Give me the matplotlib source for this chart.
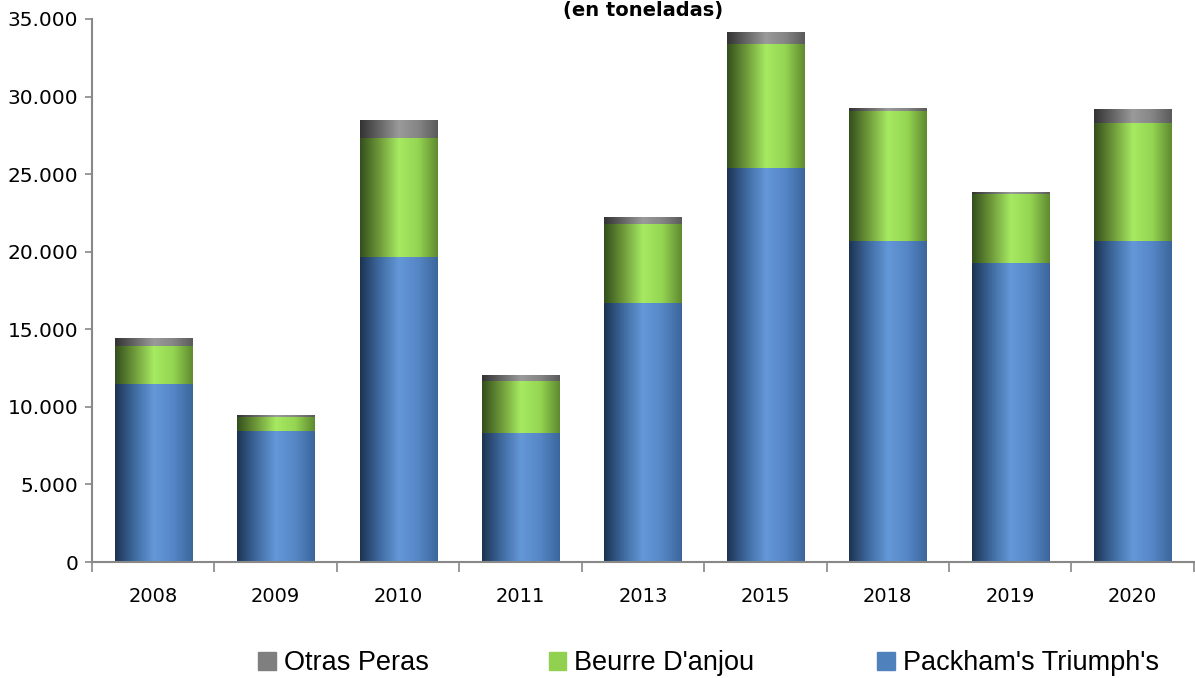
import numpy as np
import matplotlib.pyplot as plt
from matplotlib.colors import LinearSegmentedColormap
from matplotlib.ticker import FuncFormatter, FixedLocator
from matplotlib.patches import Patch


# ============================================================
# Data (toneladas)
# ============================================================

YEARS = ["2008", "2009", "2010", "2011", "2013", "2015", "2018", "2019", "2020"]
PACKHAM = [11500, 8450, 19680, 8320, 16710, 25420, 20710, 19290, 20710]
BEURRE = [2400, 900, 7670, 3360, 5100, 8000, 8390, 4450, 7610]
OTRAS = [550, 130, 1150, 380, 450, 770, 190, 130, 910]

SERIES_NAMES = ["Packham's Triumph's", "Beurre D'anjou", "Otras Peras"]
SERIES_FLAT = ["#4f81bd", "#92d050", "#7f7f7f"]
SERIES_GRAD = [
    ["#1c3352", "#3f6aa0", "#6498d8", "#5686c6", "#3b669c"],
    ["#334f1c", "#6f9a3a", "#a6ea62", "#94d451", "#5f8a30"],
    ["#333333", "#666666", "#9a9a9a", "#858585", "#5a5a5a"],
]

plt.rcParams["font.family"] = ["DejaVu Sans"]


def shade_bars(ax, bars, colors):
    """Fill each bar with a horizontal cylinder-like gradient."""
    cmap = LinearSegmentedColormap.from_list("g", colors)
    grad = np.linspace(0, 1, 256).reshape(1, -1)
    for b in bars:
        x0, y0 = b.get_x(), b.get_y()
        w, h = b.get_width(), b.get_height()
        if h <= 0:
            continue
        im = ax.imshow(grad, extent=[x0, x0 + w, y0, y0 + h], aspect="auto",
                       cmap=cmap, interpolation="bicubic", zorder=2)
        im.set_clip_path(b)
        b.set_facecolor("none")


fig = plt.figure(figsize=(11.95, 6.78), dpi=100)
ax = fig.add_axes([0.077, 0.171, 0.922, 0.801])

x = np.arange(len(YEARS))
width = 0.63
bottom = np.zeros(len(YEARS))
for vals, grad in zip([PACKHAM, BEURRE, OTRAS], SERIES_GRAD):
    bars = ax.bar(x, vals, width, bottom=bottom, linewidth=0, zorder=2)
    shade_bars(ax, bars, grad)
    bottom += np.array(vals)

ax.set_xlim(-0.5, len(YEARS) - 0.5)
ax.set_ylim(0, 35000)
ax.yaxis.set_major_locator(FixedLocator(np.arange(0, 35001, 5000)))
ax.yaxis.set_major_formatter(FuncFormatter(lambda v, p: f"{int(v):,}".replace(",", ".")))

ax.set_xticks(x)
ax.set_xticklabels(YEARS)
ax.set_xticks(np.arange(-0.5, len(YEARS)), minor=True)
ax.tick_params(axis="x", which="major", length=0, pad=18, labelsize=14)
ax.tick_params(axis="x", which="minor", length=7, color="#888888", width=1.2)
ax.tick_params(axis="y", length=5, color="#888888", width=1.2, labelsize=14.5, pad=5)

for s in ["top", "right"]:
    ax.spines[s].set_visible(False)
for s in ["left", "bottom"]:
    ax.spines[s].set_color("#888888")
    ax.spines[s].set_linewidth(1.5)

fig.text(0.538, 0.999, "(en toneladas)", ha="center", va="top",
         fontsize=14, fontweight="bold")

# legend: one entry per block, in the reference's order
for i, xpos in zip([2, 1, 0], [0.216, 0.459, 0.734]):
    fig.legend([Patch(color=SERIES_FLAT[i])], [SERIES_NAMES[i]],
               loc="center left", bbox_to_anchor=(xpos, 0.022),
               frameon=False, prop={"family": ["Liberation Sans", "DejaVu Sans"], "size": 19.5},
               handlelength=0.65, handleheight=0.65, handletextpad=0.3,
               borderaxespad=0, borderpad=0)

fig.savefig("out.png", dpi=100)
